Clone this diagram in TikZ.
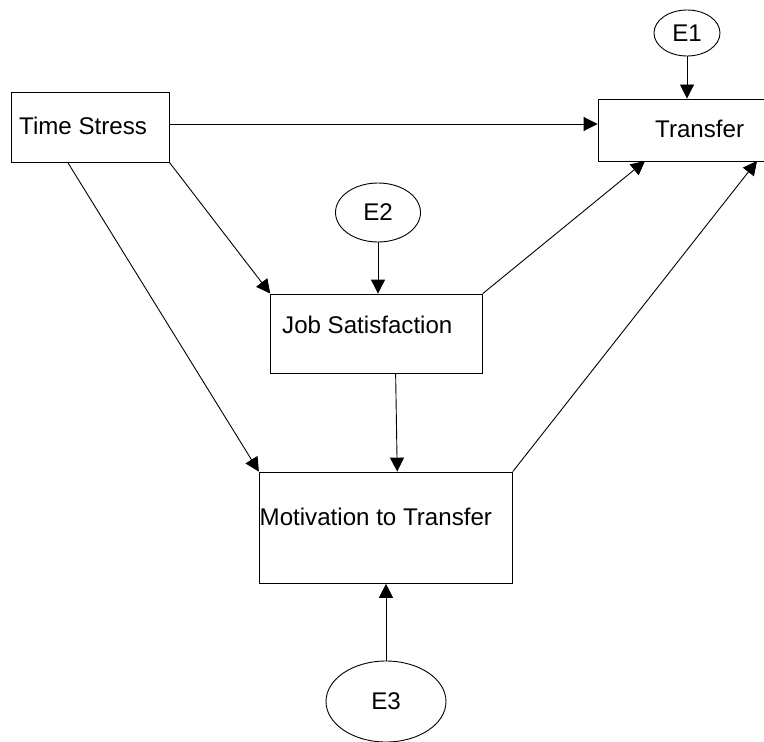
\documentclass[tikz,border=0pt]{standalone}
\usepackage{fontspec}
\setmainfont{Liberation Sans}
\usetikzlibrary{arrows.meta,shapes.geometric,calc}
\begin{document}
\begin{tikzpicture}[x=1bp,y=-1bp,
  every node/.style={font=\fontsize{24.2}{29}\selectfont},
  box/.style={draw,line width=0.9bp,rectangle,inner sep=0pt,anchor=center},
  err/.style={draw,line width=0.9bp,ellipse,inner sep=0pt,anchor=center},
  txt/.style={inner sep=0pt,anchor=base west},
  conn/.style={line width=0.9bp,-{Triangle[length=14bp,width=14bp]}}]
\clip (0,0) rectangle (764,742);
\fill[white] (0,0) rectangle (764,742);
% boxes
\node[box,minimum width=158bp,minimum height=70bp] (ts) at (90,127) {};
\node[box,minimum width=192bp,minimum height=62bp] (tr) at (694,130) {};
\node[box,minimum width=211.6bp,minimum height=79.3bp] (js) at (376.5,333.7) {};
\node[box,minimum width=253bp,minimum height=111.3bp] (mt) at (385.8,527.7) {};
% texts
\node[txt] (tst) at (19,134) {Time Stress};
\node[txt] (trt) at (655,137.7) {Transfer};
\node[txt] (jst) at (282,333) {Job Satisfaction};
\node[txt] (mtt) at (259.5,525.7) {Motivation to Transfer};
% error terms
\node[err,minimum width=66bp,minimum height=46bp] (e1) at (687,33) {E1};
\node[err,minimum width=85bp,minimum height=59bp] (e2) at (378,212.5) {E2};
\node[err,minimum width=120bp,minimum height=81bp] (e3) at (386,701.5) {E3};
% free ends on Transfer's lower edge
\coordinate (trin1) at (645,161);
\coordinate (trin2) at (757,161);
% connectors
\draw[conn] (ts.east |- 0,124) -- (tr.west |- 0,124);
\draw[conn] (e1.south) -- (e1.south |- tr.north);
\draw[conn] (ts.south east) -- (js.north west);
\draw[conn] (e2.south) -- (e2.south |- js.north);
\draw[conn] (js.north east) -- (trin1);
\draw[conn] ($(ts.south west)!0.36!(ts.south east)$) -- (mt.north west);
\draw[conn] ($(js.south west)!0.59!(js.south east)$) -- ($(mt.north west)!0.545!(mt.north east)$);
\draw[conn] (mt.north east) -- (trin2);
\draw[conn] (e3.north) -- (e3.north |- mt.south);
\end{tikzpicture}
\end{document}
